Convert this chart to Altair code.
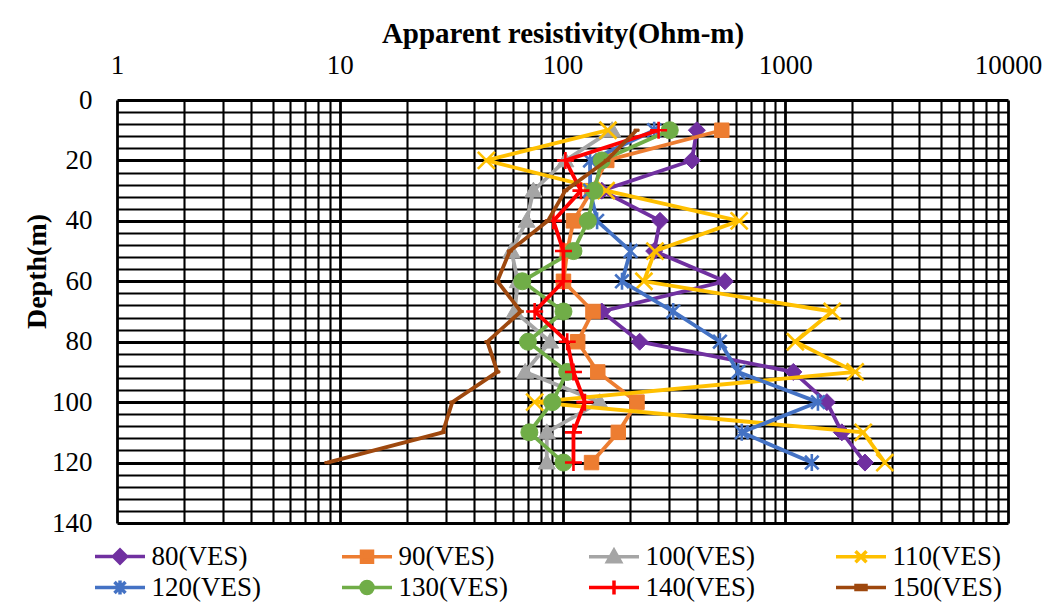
import altair as alt
import pandas as pd

# ---------------- data ----------------
depth = [10, 20, 30, 40, 50, 60, 70, 80, 90, 100, 110, 120]
series_names = ["80(VES)", "90(VES)", "100(VES)", "110(VES)",
                "120(VES)", "130(VES)", "140(VES)", "150(VES)"]
ves80 = [401, 381, 150, 274, 258, 536, 150, 222, 1087, 1538, 1795, 2280]
ves90 = [519, 158, 135, 112, 105, 101, 137, 117, 144, 216, 178, 135]
ves100 = [167, 103, 74, 69, 59, 63, 61, 88, 68, 147, 85, 85]
ves110 = [160, 45.5, 157, 621, 260, 232, 1625, 1110, 2060, 75, 2240, 2800]
ves120 = [258, 133, 133, 143, 202, 185, 314, 509, 615, 1402, 638, 1316]
ves130 = [303, 150, 139, 130, 112, 66, 101, 70, 105, 90, 71, 101]
ves140 = [270, 103, 121, 91, 101, 101, 75, 105, 112, 126, 112, 112]
ves150 = [215, 158, 103, 86, 58, 51, 65, 46, 51, 32, 29, 8.8]
all_values = [ves80, ves90, ves100, ves110, ves120, ves130, ves140, ves150]

x_ticks = [1, 2, 3, 4, 5, 6, 7, 8, 9,
           10, 20, 30, 40, 50, 60, 70, 80, 90,
           100, 200, 300, 400, 500, 600, 700, 800, 900,
           1000, 2000, 3000, 4000, 5000, 6000, 7000, 8000, 9000, 10000]
y_ticks = list(range(0, 141, 4))

# ---------------- styles ----------------
colors = ["#7030A0", "#ED7D31", "#A5A5A5", "#FFC000",
          "#4472C4", "#70AD47", "#FF0000", "#9E480E"]
point_shapes = [
    "M0,-1L1,0L0,1L-1,0Z",
    "M-0.85,-0.85L0.85,-0.85L0.85,0.85L-0.85,0.85Z",
    "M0,-1L1,0.75L-1,0.75Z",
    "M-1,-1L1,1M-1,1L1,-1",
    "M-0.8,-0.8L0.8,0.8M-0.8,0.8L0.8,-0.8M0,-1L0,1",
    "circle",
    "M0,-1L0,1M-1,0L1,0",
    "M-0.3,-0.13L0.3,-0.13L0.3,0.13L-0.3,0.13Z",
]
point_filled = [True, True, True, False, False, True, False, True]

LN = "M-2.5,0L2.5,0"
legend_shapes = [
    LN + "M0,-0.65L0.65,0L0,0.65L-0.65,0Z",
    LN + "M-0.55,-0.55L0.55,-0.55L0.55,0.55L-0.55,0.55Z",
    LN + "M0,-0.65L0.65,0.5L-0.65,0.5Z",
    LN + "M-0.55,-0.55L0.55,0.55M-0.55,0.55L0.55,-0.55",
    LN + "M-0.55,-0.55L0.55,0.55M-0.55,0.55L0.55,-0.55M0,-0.7L0,0.7",
    LN + "M-0.6,0A0.6,0.6 0 1,0 0.6,0A0.6,0.6 0 1,0 -0.6,0Z",
    LN + "M0,-0.7L0,0.7",
    LN + "M-0.5,-0.2L0.5,-0.2L0.5,0.2L-0.5,0.2Z",
]

FONT = "Liberation Serif"

rows = []
for name, vals in zip(series_names, all_values):
    for d, v in zip(depth, vals):
        rows.append({"series": name, "depth": d, "res": v})
df = pd.DataFrame(rows)

x_major = "indexof([1, 10, 100, 1000, 10000], datum.value) >= 0"

x_enc = alt.X(
    "res:Q",
    scale=alt.Scale(type="log", domain=[1, 10000], nice=False),
    axis=alt.Axis(
        orient="top", values=x_ticks, format="d",
        labelExpr=f"{x_major} ? datum.label : ''",
        labelFont=FONT, labelFontSize=27, labelColor="black",
        labelBaseline="alphabetic", labelPadding=27,
        labelFlush=False, labelOverlap=False,
        ticks=False, domain=False,
        grid=True, gridColor="black", gridOpacity=1,
        gridWidth={"condition": {"test": x_major, "value": 2.8}, "value": 2.1},
        title="Apparent resistivity(Ohm-m)", titleFont=FONT,
        titleFontSize=29, titleFontWeight="bold", titleColor="black",
        titleBaseline="alphabetic", titleY=-58,
    ),
)
y_enc = alt.Y(
    "depth:Q",
    scale=alt.Scale(domain=[0, 140], reverse=True, nice=False),
    axis=alt.Axis(
        values=y_ticks, format="d",
        labelExpr="datum.value % 20 === 0 ? datum.label : ''",
        labelFont=FONT, labelFontSize=27, labelColor="black",
        labelPadding=25, labelOverlap=False, labelFlush=False,
        ticks=False, domain=False,
        grid=True, gridColor="black", gridOpacity=1,
        gridWidth={"condition": {"test": "datum.value % 20 === 0", "value": 2.8}, "value": 2.1},
        title="Depth(m)", titleFont=FONT, titleFontSize=28,
        titleFontWeight="bold", titleColor="black",
        titleAngle=270, titleBaseline="alphabetic", titleAlign="center",
        titleX=-72, titleY=171,
    ),
)

base = alt.Chart(df).encode(x=x_enc, y=y_enc, order=alt.Order("depth:Q"))

layers = []
for name, col, shp, filled in zip(series_names, colors, point_shapes, point_filled):
    sub = base.transform_filter(alt.datum.series == name)
    layers.append(sub.mark_line(color=col, strokeWidth=3.8))
    if filled:
        layers.append(sub.mark_point(shape=shp, filled=True, fill=col, stroke=col,
                                     strokeWidth=1, size=289, opacity=1))
    else:
        layers.append(sub.mark_point(shape=shp, filled=False, stroke=col,
                                     strokeWidth=2.6, size=289, opacity=1))

leg = alt.Legend(
    title=None, orient="none", legendX=-22, legendY=443,
    columns=4, direction="horizontal", padding=0,
    labelFont=FONT, labelFontSize=27, labelColor="black",
    symbolSize=400, symbolStrokeWidth=3.5, symbolOffset=11.5,
    labelOffset=18, columnPadding=74, rowPadding=3,
    labelLimit=300,
)
legend_layer = base.mark_point(filled=True, opacity=1, strokeWidth=3.5, size=400).encode(
    fill=alt.Fill("series:N", scale=alt.Scale(domain=series_names, range=colors), legend=leg),
    stroke=alt.Stroke("series:N", scale=alt.Scale(domain=series_names, range=colors), legend=leg),
    shape=alt.Shape("series:N", scale=alt.Scale(domain=series_names, range=legend_shapes), legend=leg),
).transform_filter("false")

layers.append(legend_layer)

chart = alt.layer(*layers).properties(
    width=891, height=423,
    padding={"left": 117, "top": 100, "right": 43, "bottom": 80},
    autosize=alt.AutoSizeParams(type="none"),
    background="white",
).configure_view(stroke=None)

chart.save("out.html", embed_options={"renderer": "svg", "actions": False})
